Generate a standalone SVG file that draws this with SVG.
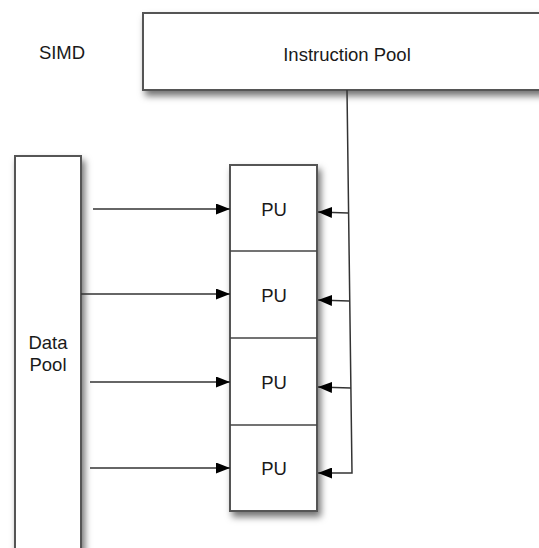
<svg xmlns="http://www.w3.org/2000/svg" width="539" height="548" viewBox="0 0 539 548">
<defs>
<style>
.box{fill:#fff;stroke:#555;stroke-width:2}
.div{fill:none;stroke:#444;stroke-width:1.5}
.lbl{font-family:"Liberation Sans",Arial,sans-serif;font-size:18.5px;fill:#1a1a1a;text-anchor:middle}
.con{fill:none;stroke:#333;stroke-width:1.5}
</style>
<filter id="sh" x="-30%" y="-30%" width="160%" height="160%">
<feDropShadow dx="3" dy="5" stdDeviation="3.5" flood-color="#000" flood-opacity="0.55"/>
</filter>
<marker id="ah" viewBox="0 0 14 11" refX="14" refY="5.5" markerWidth="14" markerHeight="11" markerUnits="userSpaceOnUse" orient="auto">
<path d="M0,0 L14,5.5 L0,11 Z" fill="#000"/>
</marker>
</defs>
<rect width="539" height="548" fill="#fff"/>
<text class="lbl" x="62" y="59">SIMD</text>
<g id="instruction-pool">
<rect class="box" x="143" y="13" width="420" height="77" filter="url(#sh)"/>
<text class="lbl" x="347" y="61">Instruction Pool</text>
</g>
<g id="data-pool">
<rect class="box" x="15" y="156" width="66" height="410" filter="url(#sh)"/>
<text class="lbl" x="48" y="349">Data</text>
<text class="lbl" x="48" y="371">Pool</text>
</g>
<g id="pu-stack">
<rect class="box" x="230" y="165" width="87" height="346" filter="url(#sh)"/>
</g>
<g id="pu1"><text class="lbl" x="274" y="216">PU</text></g>
<g id="pu2"><line class="div" x1="230" y1="251" x2="317" y2="251"/><text class="lbl" x="274" y="302">PU</text></g>
<g id="pu3"><line class="div" x1="230" y1="338" x2="317" y2="338"/><text class="lbl" x="274" y="389">PU</text></g>
<g id="pu4"><line class="div" x1="230" y1="425" x2="317" y2="425"/><text class="lbl" x="274" y="475">PU</text></g>
<g id="connectors">
<line class="con" x1="93" y1="209" x2="230" y2="209" marker-end="url(#ah)"/>
<line class="con" x1="81" y1="294" x2="230" y2="294" marker-end="url(#ah)"/>
<line class="con" x1="90" y1="382" x2="230" y2="382" marker-end="url(#ah)"/>
<line class="con" x1="90" y1="468" x2="230" y2="468" marker-end="url(#ah)"/>
<path class="con" d="M347,90 L352,473 L318,473" marker-end="url(#ah)"/>
<line class="con" x1="348" y1="213" x2="318" y2="212" marker-end="url(#ah)"/>
<line class="con" x1="349" y1="301" x2="318" y2="300" marker-end="url(#ah)"/>
<line class="con" x1="351" y1="388" x2="318" y2="387" marker-end="url(#ah)"/>
</g>
</svg>
